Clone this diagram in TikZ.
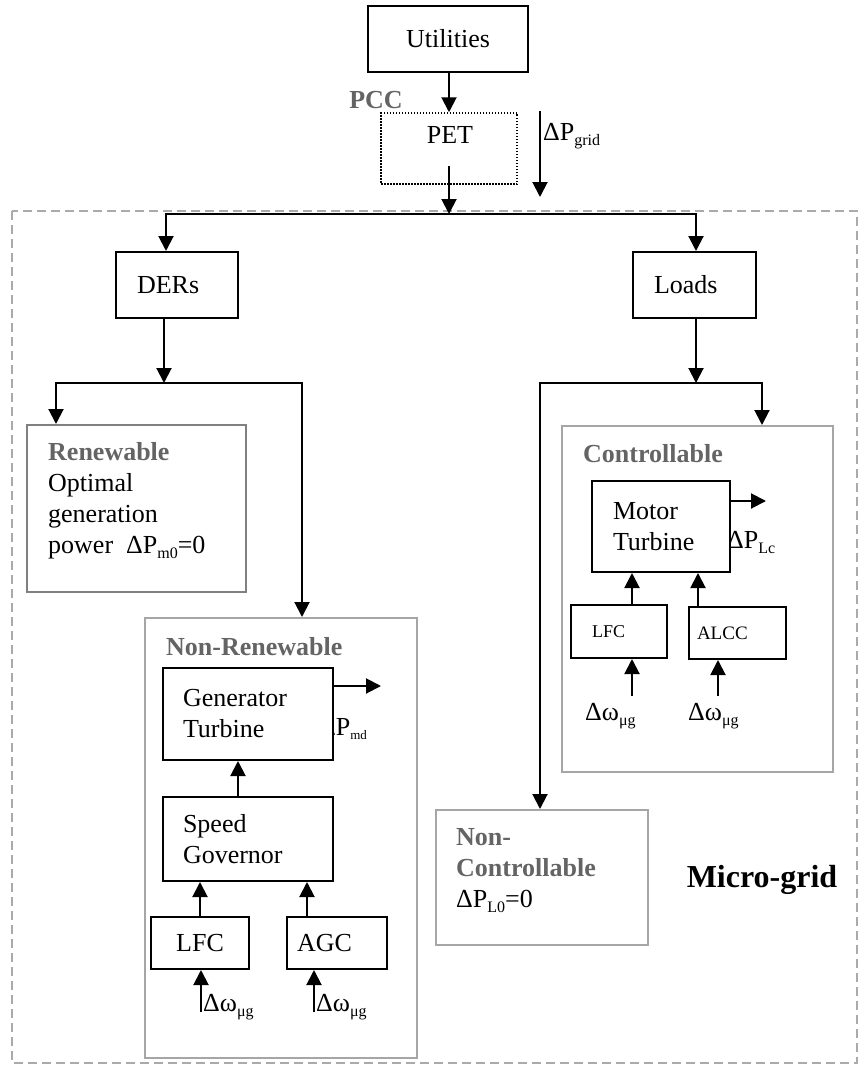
\documentclass[tikz,border=0pt]{standalone}
\usepackage{fontspec}
\setmainfont{Liberation Serif}
\usetikzlibrary{arrows.meta,calc}
\definecolor{lblgray}{RGB}{100,100,100}
\definecolor{rengray}{RGB}{128,128,128}
\definecolor{boxgray}{RGB}{166,166,166}
\definecolor{dashgray}{RGB}{170,170,170}
\newcommand\fs{\fontsize{26}{31}\selectfont}
\newcommand\sbs[1]{\raisebox{-5pt}{\fontsize{16}{16}\selectfont #1}}
\newcommand\sbsm[1]{\raisebox{-4pt}{\fontsize{13}{13}\selectfont #1}}
\begin{document}
\begin{tikzpicture}[x=1pt,y=-1pt,
  ln/.style={line width=2pt,line cap=rect},
  arr/.style={line width=2pt,line cap=rect,-{Triangle[length=15pt,width=15pt]}},
  blk/.style={draw,line width=2pt,fill=white,font=\fs,inner ysep=0pt},
  grp/.style={line width=2pt,inner sep=0pt},
  lbl/.style={font=\fs\bfseries,text=lblgray,inner sep=0pt},
  txt/.style={font=\fs,inner sep=0pt}]
\path[use as bounding box] (0,0) rectangle (859,1073);
% micro-grid border
\draw[dashgray,line width=2pt,dash pattern=on 9pt off 5pt] (12,211) rectangle (857,1063);
% group boxes
\node[grp,draw=rengray,minimum width=219pt,minimum height=167pt] (ren) at (136.5,508.5) {};
\node[grp,draw=boxgray,minimum width=272pt,minimum height=440pt] (nren) at (281,838) {};
\node[grp,draw=boxgray,minimum width=271pt,minimum height=346pt] (ctrl) at (697.5,599) {};
\node[grp,draw=boxgray,minimum width=212pt,minimum height=135pt] (nctrl) at (542,877.5) {};
% group texts
\node[txt,anchor=north west,align=left] (rentxt) at (48,442)
  {{\bfseries\color{lblgray}Renewable}\\Optimal\\generation\\power\ \ ΔP\sbs{m0}=0};
\node[lbl,anchor=base west] (nrenlbl) at (166,655) {Non-Renewable};
\node[lbl,anchor=base west] (ctrllbl) at (583,462) {Controllable};
\node[txt,anchor=north west,align=left] (nctrltxt) at (456,828)
  {{\bfseries\color{lblgray}Non-}\\{\bfseries\color{lblgray}Controllable}\\ΔP\sbs{L0}=0};
\node[font=\fontsize{32}{38}\selectfont\bfseries,inner sep=0pt] (mg) at (762,880) {Micro-grid};
% top
\node[blk,minimum width=160pt,minimum height=66pt] (util) at (448,39) {Utilities};
\node[draw,line width=1.5pt,dash pattern=on 1.5pt off 1.5pt,minimum width=136pt,minimum height=71pt,inner sep=0pt] (pet) at (449,148.5) {};
\node[txt] (petlbl) at (450,135) {PET};
\node[lbl] (pcc) at (376,100) {PCC};
\node[txt,anchor=base west] (gridlbl) at (543,140) {ΔP\sbs{grid}};
\coordinate (g1) at (540,112);
\coordinate (g2) at (540,197);
\draw[arr] (g1) -- (g2);
\draw[arr] (util.south -| pet.north) -- (pet.north);
\coordinate (petout) at (449,167);
\coordinate (busM) at (449,214);
\draw[arr] (petout) -- (busM);
% DERs / Loads
\node[blk,minimum height=66pt,text width=80pt,inner xsep=21pt,align=left] (ders) at (177,285) {DERs};
\node[blk,minimum height=66pt,text width=81pt,inner xsep=21pt,align=left] (loads) at (694.5,285) {Loads};
\coordinate (busL) at (166,214);
\coordinate (busR) at (696,214);
\draw[arr] (busR) -- (busL) -- (busL |- ders.north);
\draw[arr] (busR) -- (busR |- loads.north);
\coordinate (dbus) at (164,383);
\draw[arr] (dbus |- ders.south) -- (dbus);
\coordinate (dL) at (56,383);
\coordinate (dR) at (302,383);
\draw[arr] (dR) -- (dL) -- (dL |- ren.north);
\draw[arr] (dR) -- (dR |- nren.north);
\coordinate (lbus) at (696,383);
\draw[arr] (lbus |- loads.south) -- (lbus);
\coordinate (lL) at (540,383);
\coordinate (lR) at (762,383);
\draw[arr] (lL) -- (lR) -- (lR |- ctrl.north);
\draw[arr] (lL) -- (lL |- nctrl.north);
% Non-renewable
\node[txt,anchor=base west] (pmd) at (319,735) {ΔP\sbsm{md}};
\node[blk,minimum height=92pt,text width=130pt,inner xsep=20pt,align=left] (gen) at (248,714) {Generator\\Turbine};
\node[blk,minimum height=84pt,text width=130pt,inner xsep=20pt,align=left] (spd) at (248,839) {Speed\\Governor};
\node[blk,minimum width=98pt,minimum height=52pt,inner sep=0pt] (lfc1) at (200,943) {LFC};
\node[blk,minimum height=52pt,text width=80pt,inner xsep=10pt,align=left] (agc) at (337,943) {AGC};
\coordinate (genout) at (381,686);
\draw[arr] (gen.east |- genout) -- (genout);
\draw[arr] ([xshift=-10pt]spd.north) -- ([xshift=-10pt]gen.south);
\draw[arr] (lfc1.north) -- (lfc1.north |- spd.south);
\draw[arr] ([xshift=-30pt]agc.north) -- ([xshift=-30pt]agc.north |- spd.south);
\coordinate (w1) at (201,1011);
\draw[arr] (w1) -- (w1 |- lfc1.south);
\node[txt,anchor=base west] (w1l) at (203,1011) {Δω\sbs{μg}};
\coordinate (w2) at (314,1011);
\draw[arr] (w2) -- (w2 |- agc.south);
\node[txt,anchor=base west] (w2l) at (316,1011) {Δω\sbs{μg}};
% Controllable
\node[txt,anchor=base west] (plc) at (727,548) {ΔP\sbs{Lc}};
\node[blk,minimum height=91pt,text width=96pt,inner xsep=21pt,align=left] (motor) at (661,526.5) {Motor\\Turbine};
\node[blk,font=\fontsize{18}{20}\selectfont,minimum height=53pt,text width=54pt,inner xsep=21pt,align=left] (lfc2) at (619,631.5) {LFC};
\node[blk,font=\fontsize{19}{21}\selectfont,minimum height=52pt,text width=81pt,inner xsep=8pt,align=left] (alcc) at (737.5,633) {ALCC};
\coordinate (mout) at (766,501);
\draw[arr] (motor.east |- mout) -- (mout);
\draw[arr] ([xshift=13pt]lfc2.north) -- ([xshift=13pt]lfc2.north |- motor.south);
\draw[arr] ([xshift=-39.5pt]alcc.north) -- ([xshift=-39.5pt]alcc.north |- motor.south);
\coordinate (w3) at (632,695);
\draw[arr] (w3) -- (w3 |- lfc2.south);
\node[txt,anchor=base west] (w3l) at (585,720) {Δω\sbs{μg}};
\coordinate (w4) at (718,695);
\draw[arr] (w4) -- (w4 |- alcc.south);
\node[txt,anchor=base west] (w4l) at (688,720) {Δω\sbs{μg}};
\end{tikzpicture}
\end{document}
